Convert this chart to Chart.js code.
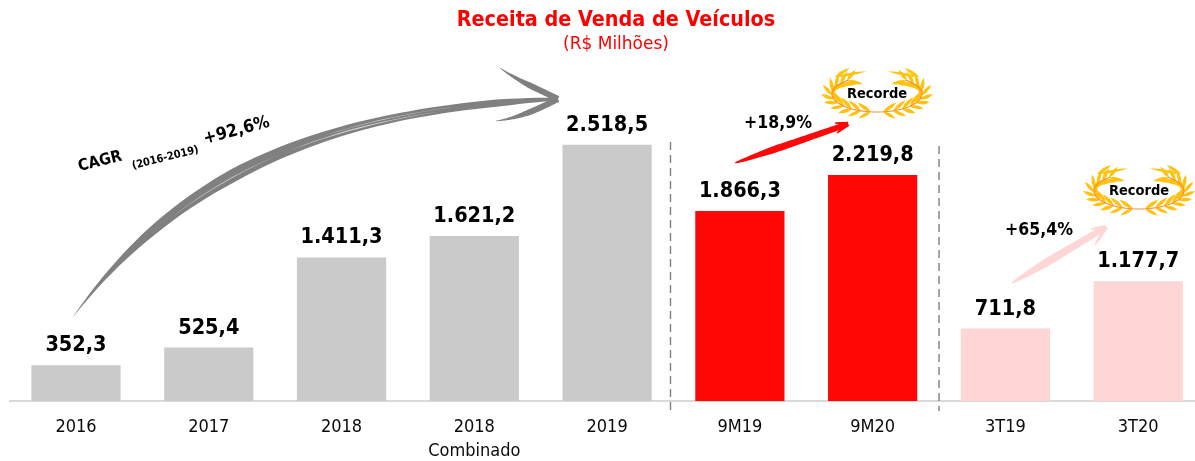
<!DOCTYPE html>
<html>
<head>
<meta charset="utf-8">
<title>Receita de Venda de Veículos</title>
<script src="https://cdn.jsdelivr.net/npm/chart.js@4/dist/chart.umd.min.js"></script>
<style>
    html, body { margin: 0; padding: 0; background: #fff; overflow: hidden; }
    #wrap { position: relative; width: 1232px; height: 461px; }
</style>
</head>
<body>
<div id="wrap"><canvas id="chart" width="1232" height="461"></canvas></div>
<script>
const FONT = '"DejaVu Sans Condensed", "DejaVu Sans", sans-serif';

// Data
const categories = ['2016', '2017', '2018', ['2018', 'Combinado'], '2019', '9M19', '9M20', '3T19', '3T20'];
const revenue = [352.3, 525.4, 1411.3, 1621.2, 2518.5, 1866.3, 2219.8, 711.8, 1177.7];
const valueLabels = ['352,3', '525,4', '1.411,3', '1.621,2', '2.518,5', '1.866,3', '2.219,8', '711,8', '1.177,7'];
const barColors = ['#cacaca', '#cacaca', '#cacaca', '#cacaca', '#cacaca', '#ff0707', '#ff0707', '#ffd6d6', '#ffd6d6'];

// Cubic bezier as a dense list of points
function bezier(p0, p1, p2, p3) {
    const out = [];
    for (let i = 0; i <= 60; i++) {
        const t = i / 60, u = 1 - t;
        out.push([
            u * u * u * p0[0] + 3 * u * u * t * p1[0] + 3 * u * t * t * p2[0] + t * t * t * p3[0],
            u * u * u * p0[1] + 3 * u * u * t * p1[1] + 3 * u * t * t * p2[1] + t * t * t * p3[1]
        ]);
    }
    return out;
}

// Filled stroke whose width changes along the way. widths = [[position 0..1, width], ...]
function brush(ctx, line, widths, color) {
    const widthAt = f => {
        for (let i = 0; i < widths.length - 1; i++) {
            if (f <= widths[i + 1][0]) {
                const k = (f - widths[i][0]) / (widths[i + 1][0] - widths[i][0]);
                return widths[i][1] + k * (widths[i + 1][1] - widths[i][1]);
            }
        }
        return widths[widths.length - 1][1];
    };
    const left = [], right = [];
    line.forEach((p, i) => {
        const a = line[Math.max(i - 1, 0)], b = line[Math.min(i + 1, line.length - 1)];
        const dx = b[0] - a[0], dy = b[1] - a[1], len = Math.hypot(dx, dy) || 1;
        const w = widthAt(i / (line.length - 1)) / 2;
        left.push([p[0] - dy / len * w, p[1] + dx / len * w]);
        right.push([p[0] + dy / len * w, p[1] - dx / len * w]);
    });
    ctx.fillStyle = color;
    ctx.beginPath();
    left.forEach((p, i) => i ? ctx.lineTo(p[0], p[1]) : ctx.moveTo(p[0], p[1]));
    right.reverse().forEach(p => ctx.lineTo(p[0], p[1]));
    ctx.closePath();
    ctx.fill();
}

function straight(a, b) {
    return bezier(a, a, b, b);
}

function tiltedText(ctx, text, x, y, angle, font, color) {
    ctx.save();
    ctx.translate(x, y);
    ctx.rotate(angle * Math.PI / 180);
    ctx.font = font;
    ctx.fillStyle = color;
    ctx.textAlign = 'left';
    ctx.textBaseline = 'alphabetic';
    ctx.fillText(text, 0, 0);
    ctx.restore();
}

function centerText(ctx, text, x, y, font, color) {
    ctx.font = font;
    ctx.fillStyle = color || '#000';
    ctx.textAlign = 'center';
    ctx.textBaseline = 'alphabetic';
    ctx.fillText(text, x, y);
}

// One leaf, starting on the stem
function leaf(ctx, x, y, angle, len, wid) {
    ctx.save();
    ctx.translate(x, y);
    ctx.rotate(angle);
    ctx.beginPath();
    ctx.moveTo(0, 0);
    ctx.quadraticCurveTo(len * 0.45, -wid, len, 0);
    ctx.quadraticCurveTo(len * 0.45, wid, 0, 0);
    ctx.fill();
    ctx.restore();
}

// Wreath: the left branch is drawn twice, once mirrored
function laurel(ctx, cx, cy) {
    const stem = d => [Math.cos(d * Math.PI / 180) * 45, 1 + Math.sin(d * Math.PI / 180) * 18];
    [1, -1].forEach(side => {
        ctx.save();
        ctx.translate(cx, cy);
        ctx.scale(side, 1);
        ctx.fillStyle = '#ffc20e';
        for (let d = 98; d <= 232; d += 13) {
            const p = stem(d);
            const rad = d * Math.PI / 180;
            const along = Math.atan2(Math.cos(rad) * 18, -Math.sin(rad) * 45);
            leaf(ctx, p[0], p[1], along + 0.55, 16, 3.8);   // outer
            leaf(ctx, p[0], p[1], along - 0.55, 14, 3.6);   // inner
        }
        leaf(ctx, -42, -16, -0.18, 32, 2.8);
        leaf(ctx, -42, -16, -0.55, 17, 3.2);
        ctx.strokeStyle = '#f58a3c';
        ctx.lineWidth = 1.1;
        ctx.beginPath();
        for (let d = 90; d <= 232; d += 4) {
            const p = stem(d);
            d === 90 ? ctx.moveTo(p[0], p[1]) : ctx.lineTo(p[0], p[1]);
        }
        ctx.stroke();
        ctx.restore();
    });
    centerText(ctx, 'Recorde', cx, cy + 5, 'bold 14.5px ' + FONT);
}

// Dividers sit between two categories, shifted a little the way the slide has them
function divider(ctx, chart, index, top, shift) {
    const xs = chart.scales.x;
    const x = (xs.getPixelForValue(index) + xs.getPixelForValue(index + 1)) / 2 + shift;
    ctx.save();
    ctx.strokeStyle = '#7f7f7f';
    ctx.lineWidth = 1.4;
    ctx.setLineDash([8, 5]);
    ctx.beginPath();
    ctx.moveTo(x, top);
    ctx.lineTo(x, 411);
    ctx.stroke();
    ctx.restore();
}

function growthArrow(ctx, tail, tip, barbA, barbB, mid, color) {
    brush(ctx, straight(tail, tip), [[0, 0.5], [0.4, mid], [0.85, mid * 0.8], [1, 2]], color);
    brush(ctx, straight(barbA, tip), [[0, 1], [1, 5]], color);
    brush(ctx, straight(barbB, tip), [[0, 1], [1, 5]], color);
}

const annotations = {
    id: 'annotations',
    afterDatasetsDraw(chart) {
        const ctx = chart.ctx;
        const meta = chart.getDatasetMeta(0);
        ctx.save();

        // value labels
        meta.data.forEach((bar, i) => {
            centerText(ctx, valueLabels[i], bar.x, bar.y - 14, 'bold 21.5px ' + FONT, '#000');
        });

        divider(ctx, chart, 4, 142, -3);
        divider(ctx, chart, 6, 146, 0);

        // CAGR sketch arrow
        const gray = '#808080';
        const cagr = bezier([73, 317], [195, 150], [370, 108], [556, 99]);
        brush(ctx, cagr, [[0, 0.3], [0.2, 9], [0.38, 13], [0.7, 8], [0.9, 7], [1, 3]], gray);
        brush(ctx, bezier([500, 68], [520, 82], [540, 90], [558, 99]), [[0, 0.5], [0.5, 6], [1, 6]], gray);
        brush(ctx, bezier([496, 121], [520, 118], [540, 108], [558, 99]), [[0, 0.5], [0.5, 6], [1, 6]], gray);
        // dry-brush streaks
        brush(ctx, cagr.slice(14, 30).map(p => [p[0] + 1, p[1] + 1]), [[0, 0], [0.5, 0.9], [1, 0]], '#c8c8c8');
        brush(ctx, cagr.slice(28, 48).map(p => [p[0], p[1] + 1.5]), [[0, 0], [0.5, 1], [1, 0]], '#d8d8d8');
        brush(ctx, cagr.slice(32, 50).map(p => [p[0], p[1] - 1]), [[0, 0], [0.5, 0.7], [1, 0]], '#c8c8c8');

        tiltedText(ctx, 'CAGR', 79.5, 171, -14, 'bold 16px ' + FONT, '#000');
        tiltedText(ctx, '(2016-2019)', 133, 169, -14, 'bold 11px ' + FONT, '#000');
        tiltedText(ctx, '+92,6%', 205, 144, -15, 'bold 17.5px ' + FONT, '#000');

        // 9M growth
        growthArrow(ctx, [735, 163], [848, 124], [835, 123], [837, 133], 7, '#ff0707');
        centerText(ctx, '+18,9%', 778, 128, 'bold 17.5px ' + FONT, '#000');
        laurel(ctx, 877, 93);

        // 3T growth
        growthArrow(ctx, [1012, 283], [1106, 227], [1091, 229], [1095, 245], 8, '#ffd6d6');
        centerText(ctx, '+65,4%', 1039, 235, 'bold 17.5px ' + FONT, '#000');
        laurel(ctx, 1139, 190);

        ctx.restore();
    }
};

new Chart(document.getElementById('chart').getContext('2d'), {
    type: 'bar',
    data: {
        labels: categories,
        datasets: [{
            data: revenue,
            backgroundColor: barColors,
            categoryPercentage: 1,
            barPercentage: 0.672
        }]
    },
    options: {
        responsive: false,
        animation: false,
        plugins: {
            legend: { display: false },
            tooltip: { enabled: false },
            title: {
                display: true,
                text: 'Receita de Venda de Veículos',
                color: '#ff0000',
                font: { family: FONT, size: 21.4, weight: 'bold', lineHeight: 1.2 },
                padding: { top: 8, bottom: 0 }
            },
            subtitle: {
                display: true,
                text: '(R$ Milhões)',
                color: '#ff0000',
                font: { family: '"DejaVu Sans", sans-serif', size: 17, weight: 'normal', lineHeight: 1.2 },
                padding: { top: 1, bottom: 5 }
            }
        },
        scales: {
            // empty side axes only hold the plot area in place, the title stays centred on the canvas
            y: {
                min: 0,
                max: 3350,
                grid: { display: false },
                border: { display: false },
                ticks: { display: false },
                afterFit(scale) { scale.width = 9.6; }
            },
            right: {
                position: 'right',
                display: true,
                grid: { display: false },
                border: { display: false },
                ticks: { display: false },
                afterFit(scale) { scale.width = 27.4; }
            },
            x: {
                afterFit(scale) { scale.height = 60; },
                grid: { display: false, drawTicks: false },
                border: { display: true, color: '#d9d9d9', width: 2 },
                ticks: {
                    autoSkip: false,
                    maxRotation: 0,
                    padding: 14,
                    color: '#0a0a0a',
                    font: { family: FONT, size: 18, lineHeight: 1.35 }
                }
            }
        }
    },
    plugins: [annotations]
});
</script>
</body>
</html>
